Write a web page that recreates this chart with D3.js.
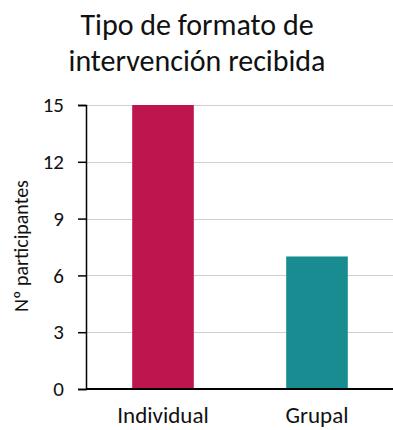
<!DOCTYPE html>
<html lang="es">
<head>
<meta charset="UTF-8"/>
<title>Tipo de formato de intervención recibida</title>
<script src="https://d3js.org/d3.v7.min.js"></script>
<style>
    body { margin: 0; background: #fff; }
    svg { display: block; font-family: Carlito, Calibri, Lato, sans-serif; }
</style>
</head>
<body>
<script>
    var categories = ["Individual", "Grupal"];
    var values = [15, 7];
    var colors = ["#be154f", "#188c91"];
    var yTicks = [0, 3, 6, 9, 12, 15];

    var w = 393;
    var h = 430;
    var plotLeft = 86, plotRight = 393, plotTop = 105, plotBottom = 389;

    var svg = d3.select("body")
                .append("svg")
                .attr("width", w)
                .attr("height", h);

    var xScale = d3.scaleBand()
                .domain(categories)
                .range([plotLeft, plotLeft + 2 * 154])
                .paddingInner(0.6)
                .paddingOuter(0.3);

    var yScale = d3.scaleLinear()
                .domain([0, 15])
                .range([plotBottom, plotTop]);

    // title
    var title = svg.append("text")
        .attr("text-anchor", "middle")
        .attr("font-size", 30)
        .attr("fill", "#111");
    title.append("tspan").attr("x", 197).attr("y", 35).text("Tipo de formato de");
    title.append("tspan").attr("x", 197).attr("y", 71).text("intervención recibida");

    // gridlines
    svg.append("g")
        .selectAll("line")
        .data(yTicks.filter(function(d) { return d > 0; }))
        .enter()
        .append("line")
        .attr("x1", plotLeft)
        .attr("x2", plotRight)
        .attr("y1", function(d) { return Math.round(yScale(d)) + 0.5; })
        .attr("y2", function(d) { return Math.round(yScale(d)) + 0.5; })
        .attr("stroke", "#d0d0d0")
        .attr("stroke-width", 1);

    // bars
    svg.selectAll("rect")
        .data(values)
        .enter()
        .append("rect")
        .attr("x", function(d, i) { return xScale(categories[i]); })
        .attr("y", function(d) { return yScale(d); })
        .attr("width", xScale.bandwidth())
        .attr("height", function(d) { return plotBottom - yScale(d); })
        .attr("fill", function(d, i) { return colors[i]; });

    // y axis
    var yAxis = d3.axisLeft(yScale)
                .tickValues(yTicks)
                .tickSize(8)
                .tickPadding(14);

    var gy = svg.append("g")
        .attr("transform", "translate(" + plotLeft + ",0)")
        .call(yAxis);
    gy.select(".domain").attr("stroke", "#000").attr("stroke-width", 1.5);
    gy.selectAll(".tick line").attr("stroke", "#000").attr("stroke-width", 1.5);
    gy.selectAll("text")
        .attr("font-family", "Carlito, Calibri, Lato, sans-serif")
        .attr("font-size", 21)
        .attr("fill", "#111");

    // x axis
    var xAxis = d3.axisBottom(xScale)
                .tickSize(0)
                .tickPadding(18);

    var gx = svg.append("g")
        .attr("transform", "translate(0," + plotBottom + ")")
        .call(xAxis);
    gx.select(".domain")
        .attr("d", "M" + plotLeft + ",0H" + plotRight)
        .attr("stroke", "#000")
        .attr("stroke-width", 2);
    gx.selectAll("text")
        .attr("font-family", "Carlito, Calibri, Lato, sans-serif")
        .attr("font-size", 23)
        .attr("fill", "#111");

    // y axis label
    svg.append("text")
        .attr("text-anchor", "middle")
        .attr("transform", "translate(28," + 246 + ") rotate(-90)")
        .attr("font-size", 20)
        .attr("fill", "#111")
        .text("Nº participantes");
</script>
</body>
</html>
